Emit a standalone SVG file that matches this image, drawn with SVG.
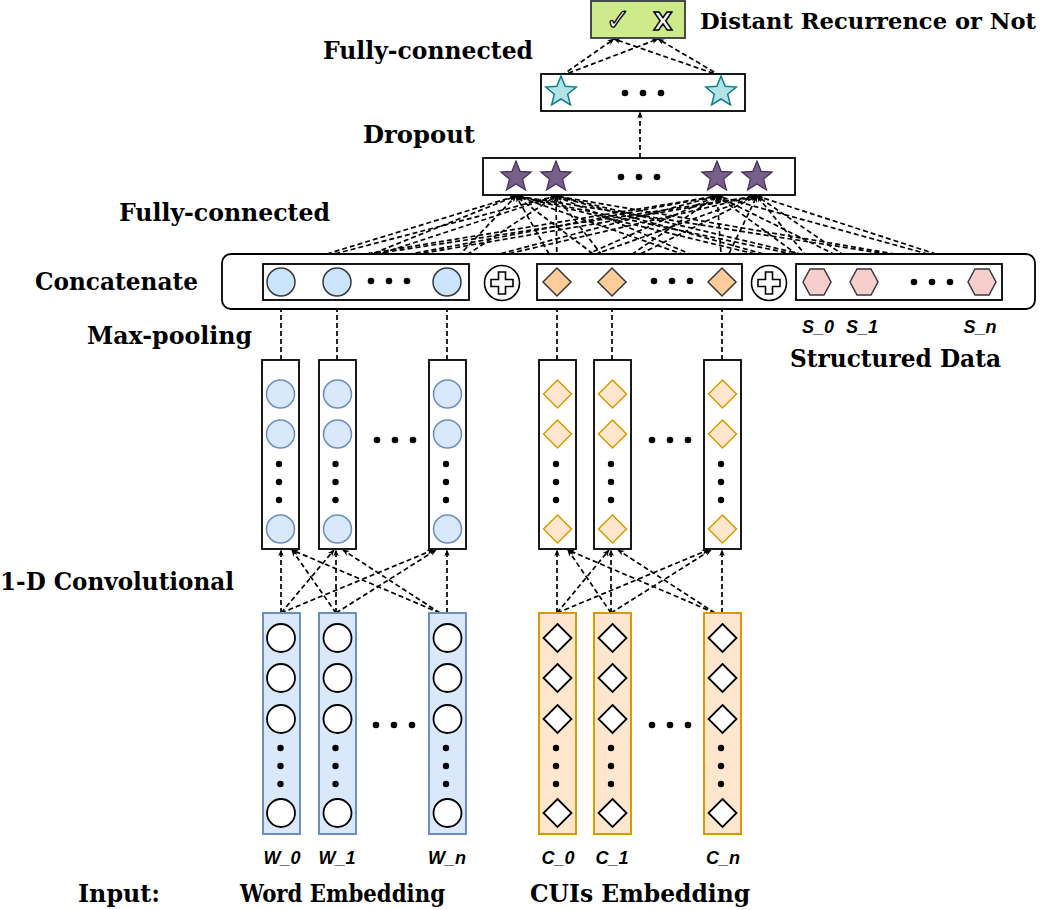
<svg xmlns="http://www.w3.org/2000/svg" xmlns:xlink="http://www.w3.org/1999/xlink" width="1050" height="910" viewBox="0 0 1050 910">
<style>
.lbl{font-family:"DejaVu Serif","Liberation Serif",serif;font-weight:bold;font-size:25px;fill:#000}
.sub{font-family:"Liberation Sans",Arial,sans-serif;font-weight:bold;font-style:italic;font-size:18px;fill:#000;text-anchor:middle}
.box{fill:#fff;stroke:#000;stroke-width:1.8}
.dl{fill:none;stroke:#000;stroke-width:1.7;stroke-dasharray:5 3;marker-end:url(#ah)}
.dot{fill:#000}
.cc{fill:#cce5ff;stroke:#36393d;stroke-width:1.5}
.cd{fill:#ffcc99;stroke:#36393d;stroke-width:1.5}
.hx{fill:#f8cecc;stroke:#36393d;stroke-width:1.5}
.bc{fill:#dae8fc;stroke:#6c8ebf;stroke-width:1.5}
.od{fill:#ffe6cc;stroke:#d79b00;stroke-width:1.5}
.wcol{fill:#dae8fc;stroke:#6c8ebf;stroke-width:2}
.ocol{fill:#ffe6cc;stroke:#d79b00;stroke-width:2}
.wc{fill:#fff;stroke:#000;stroke-width:1.8}
.ps{fill:#76608a;stroke:#432d57;stroke-width:1.2}
.cs{fill:#b0e3e6;stroke:#0e8088;stroke-width:1.5}
</style>
<defs>
<marker id="ah" viewBox="0 0 10 10" refX="9" refY="5" markerWidth="7" markerHeight="7" orient="auto" markerUnits="userSpaceOnUse"><path d="M0,1 L10,5 L0,9 L3,5 z" fill="#000"/></marker>
<path id="star" d="M0,-16 L4.11,-5.66 L15.22,-4.94 L6.66,2.16 L9.4,12.94 L0,7 L-9.4,12.94 L-6.66,2.16 L-15.22,-4.94 L-4.11,-5.66 Z"/>
<path id="dia" d="M0,-14 L14,0 L0,14 L-14,0 Z"/>
<path id="hex" d="M-14,0 L-7,-13 L7,-13 L14,0 L7,13 L-7,13 Z"/>
<g id="plus"><circle r="17.5" fill="#fff" stroke="#000" stroke-width="1.6"/><path d="M-3.5,-11 H3.5 V-3.5 H11 V3.5 H3.5 V11 H-3.5 V3.5 H-11 V-3.5 H-3.5 Z" fill="#fff" stroke="#000" stroke-width="1.6"/></g>
<g id="hdots"><circle cx="0" cy="0" r="3.3"/><circle cx="18" cy="0" r="3.3"/><circle cx="36" cy="0" r="3.3"/></g>
<g id="vdots"><circle cx="0" cy="0" r="3.2"/><circle cx="0" cy="18" r="3.2"/><circle cx="0" cy="36" r="3.2"/></g>
</defs>
<rect width="1050" height="910" fill="#fff"/>

<g id="connectors">
<line class="dl" x1="561" y1="76" x2="614" y2="39"/>
<line class="dl" x1="561" y1="76" x2="658" y2="39"/>
<line class="dl" x1="721" y1="76" x2="614" y2="39"/>
<line class="dl" x1="721" y1="76" x2="658" y2="39"/>
<line class="dl" x1="640" y1="158" x2="640" y2="112"/>
<line class="dl" x1="281" y1="268" x2="516" y2="196"/><line class="dl" x1="281" y1="268" x2="556" y2="196"/><line class="dl" x1="281" y1="268" x2="717" y2="196"/><line class="dl" x1="281" y1="268" x2="757" y2="196"/>
<line class="dl" x1="337" y1="268" x2="516" y2="196"/><line class="dl" x1="337" y1="268" x2="556" y2="196"/><line class="dl" x1="337" y1="268" x2="717" y2="196"/><line class="dl" x1="337" y1="268" x2="757" y2="196"/>
<line class="dl" x1="447" y1="268" x2="516" y2="196"/><line class="dl" x1="447" y1="268" x2="556" y2="196"/><line class="dl" x1="447" y1="268" x2="717" y2="196"/><line class="dl" x1="447" y1="268" x2="757" y2="196"/>
<line class="dl" x1="557" y1="268" x2="516" y2="196"/><line class="dl" x1="557" y1="268" x2="556" y2="196"/><line class="dl" x1="557" y1="268" x2="717" y2="196"/><line class="dl" x1="557" y1="268" x2="757" y2="196"/>
<line class="dl" x1="612" y1="268" x2="516" y2="196"/><line class="dl" x1="612" y1="268" x2="556" y2="196"/><line class="dl" x1="612" y1="268" x2="717" y2="196"/><line class="dl" x1="612" y1="268" x2="757" y2="196"/>
<line class="dl" x1="722" y1="268" x2="516" y2="196"/><line class="dl" x1="722" y1="268" x2="556" y2="196"/><line class="dl" x1="722" y1="268" x2="717" y2="196"/><line class="dl" x1="722" y1="268" x2="757" y2="196"/>
<line class="dl" x1="817" y1="269" x2="516" y2="196"/><line class="dl" x1="817" y1="269" x2="556" y2="196"/><line class="dl" x1="817" y1="269" x2="717" y2="196"/><line class="dl" x1="817" y1="269" x2="757" y2="196"/>
<line class="dl" x1="864" y1="269" x2="516" y2="196"/><line class="dl" x1="864" y1="269" x2="556" y2="196"/><line class="dl" x1="864" y1="269" x2="717" y2="196"/><line class="dl" x1="864" y1="269" x2="757" y2="196"/>
<line class="dl" x1="982" y1="269" x2="516" y2="196"/><line class="dl" x1="982" y1="269" x2="556" y2="196"/><line class="dl" x1="982" y1="269" x2="717" y2="196"/><line class="dl" x1="982" y1="269" x2="757" y2="196"/>
<line class="dl" x1="281" y1="360" x2="281" y2="300"/>
<line class="dl" x1="337" y1="360" x2="337" y2="300"/>
<line class="dl" x1="447" y1="360" x2="447" y2="300"/>
<line class="dl" x1="557" y1="360" x2="557" y2="300"/>
<line class="dl" x1="612" y1="360" x2="612" y2="300"/>
<line class="dl" x1="722" y1="360" x2="722" y2="300"/>
<line class="dl" x1="281" y1="613" x2="281" y2="550"/>
<line class="dl" x1="281" y1="613" x2="334" y2="550"/>
<line class="dl" x1="281" y1="613" x2="433" y2="550"/>
<line class="dl" x1="336" y1="613" x2="292" y2="550"/>
<line class="dl" x1="336" y1="613" x2="336" y2="550"/>
<line class="dl" x1="336" y1="613" x2="436" y2="550"/>
<line class="dl" x1="440" y1="613" x2="292" y2="550"/>
<line class="dl" x1="440" y1="613" x2="343" y2="550"/>
<line class="dl" x1="447" y1="613" x2="447" y2="550"/>
<line class="dl" x1="557" y1="613" x2="557" y2="550"/>
<line class="dl" x1="557" y1="613" x2="609" y2="550"/>
<line class="dl" x1="557" y1="613" x2="708" y2="550"/>
<line class="dl" x1="611" y1="613" x2="568" y2="550"/>
<line class="dl" x1="611" y1="613" x2="611" y2="550"/>
<line class="dl" x1="611" y1="613" x2="711" y2="550"/>
<line class="dl" x1="715" y1="613" x2="568" y2="550"/>
<line class="dl" x1="715" y1="613" x2="618" y2="550"/>
<line class="dl" x1="722" y1="613" x2="722" y2="550"/>
</g>

<g id="output">
<rect x="591" y="1" width="94" height="37" fill="#cdeb8b" stroke="#36393d" stroke-width="1.8"/>
<text x="618" y="30" font-family="DejaVu Sans,sans-serif" font-size="30" font-weight="bold" text-anchor="middle" fill="#fff" stroke="#000" stroke-width="1.3">✓</text>
<text x="663" y="30" font-family="DejaVu Sans,sans-serif" font-size="25" font-weight="bold" text-anchor="middle" fill="#fff" stroke="#000" stroke-width="1.5">X</text>
</g>

<g id="fc2">
<rect class="box" x="541" y="74" width="204" height="37"/>
<use xlink:href="#star" class="cs" transform="translate(561,92)"/>
<use xlink:href="#star" class="cs" transform="translate(721,92)"/>
<use xlink:href="#hdots" class="dot" transform="translate(625,93)"/>
</g>

<g id="dropout">
<rect class="box" x="483" y="158" width="312" height="37"/>
<use xlink:href="#star" class="ps" transform="translate(516,177)"/>
<use xlink:href="#star" class="ps" transform="translate(556,177)"/>
<use xlink:href="#star" class="ps" transform="translate(717,177)"/>
<use xlink:href="#star" class="ps" transform="translate(757,177)"/>
<use xlink:href="#hdots" class="dot" transform="translate(621,177)"/>
</g>

<g id="concatenate">
<rect x="222" y="254" width="813" height="55" rx="9" fill="#fff" stroke="#000" stroke-width="1.8"/>
<rect class="box" x="263" y="264" width="206" height="36"/>
<circle class="cc" cx="281" cy="282" r="14"/>
<circle class="cc" cx="337" cy="282" r="14"/>
<circle class="cc" cx="447" cy="282" r="14"/>
<use xlink:href="#hdots" class="dot" transform="translate(371,281)"/>
<use xlink:href="#plus" transform="translate(502,283)"/>
<rect class="box" x="537" y="264" width="205" height="36"/>
<use xlink:href="#dia" class="cd" transform="translate(557,282)"/>
<use xlink:href="#dia" class="cd" transform="translate(612,282)"/>
<use xlink:href="#dia" class="cd" transform="translate(722,282)"/>
<use xlink:href="#hdots" class="dot" transform="translate(654,281)"/>
<use xlink:href="#plus" transform="translate(769,283)"/>
<rect class="box" x="796" y="264" width="206" height="36"/>
<use xlink:href="#hex" class="hx" transform="translate(817,282)"/>
<use xlink:href="#hex" class="hx" transform="translate(864,282)"/>
<use xlink:href="#hex" class="hx" transform="translate(982,282)"/>
<use xlink:href="#hdots" class="dot" transform="translate(914,282)"/>
</g>

<g id="conv-word">
<rect class="box" x="262" y="360" width="37" height="189"/>
<rect class="box" x="319" y="360" width="37" height="189"/>
<rect class="box" x="429" y="360" width="37" height="189"/>
<circle class="bc" cx="280.5" cy="394" r="14"/><circle class="bc" cx="280.5" cy="434" r="14"/><circle class="bc" cx="280.5" cy="529" r="14"/>
<circle class="bc" cx="337.5" cy="394" r="14"/><circle class="bc" cx="337.5" cy="434" r="14"/><circle class="bc" cx="337.5" cy="529" r="14"/>
<circle class="bc" cx="447.5" cy="394" r="14"/><circle class="bc" cx="447.5" cy="434" r="14"/><circle class="bc" cx="447.5" cy="529" r="14"/>
<use xlink:href="#vdots" class="dot" transform="translate(279,464)"/>
<use xlink:href="#vdots" class="dot" transform="translate(335.5,464)"/>
<use xlink:href="#vdots" class="dot" transform="translate(446,464)"/>
<use xlink:href="#hdots" class="dot" transform="translate(377,440)"/>
</g>

<g id="conv-cui">
<rect class="box" x="539" y="360" width="37" height="189"/>
<rect class="box" x="594" y="360" width="37" height="189"/>
<rect class="box" x="704" y="360" width="37" height="189"/>
<use xlink:href="#dia" class="od" transform="translate(557.5,394)"/><use xlink:href="#dia" class="od" transform="translate(557.5,434)"/><use xlink:href="#dia" class="od" transform="translate(557.5,529)"/>
<use xlink:href="#dia" class="od" transform="translate(612.5,394)"/><use xlink:href="#dia" class="od" transform="translate(612.5,434)"/><use xlink:href="#dia" class="od" transform="translate(612.5,529)"/>
<use xlink:href="#dia" class="od" transform="translate(722.5,394)"/><use xlink:href="#dia" class="od" transform="translate(722.5,434)"/><use xlink:href="#dia" class="od" transform="translate(722.5,529)"/>
<use xlink:href="#vdots" class="dot" transform="translate(556,464)"/>
<use xlink:href="#vdots" class="dot" transform="translate(611,464)"/>
<use xlink:href="#vdots" class="dot" transform="translate(721,464)"/>
<use xlink:href="#hdots" class="dot" transform="translate(652,440)"/>
</g>

<g id="input-word">
<rect class="wcol" x="263" y="613" width="37" height="221"/>
<rect class="wcol" x="319" y="613" width="37" height="221"/>
<rect class="wcol" x="429" y="613" width="37" height="221"/>
<circle class="wc" cx="281" cy="638" r="14"/><circle class="wc" cx="281" cy="678" r="14"/><circle class="wc" cx="281" cy="719" r="14"/><circle class="wc" cx="281" cy="813" r="14"/>
<circle class="wc" cx="337.5" cy="638" r="14"/><circle class="wc" cx="337.5" cy="678" r="14"/><circle class="wc" cx="337.5" cy="719" r="14"/><circle class="wc" cx="337.5" cy="813" r="14"/>
<circle class="wc" cx="447.5" cy="638" r="14"/><circle class="wc" cx="447.5" cy="678" r="14"/><circle class="wc" cx="447.5" cy="719" r="14"/><circle class="wc" cx="447.5" cy="813" r="14"/>
<use xlink:href="#vdots" class="dot" transform="translate(280.5,748)"/>
<use xlink:href="#vdots" class="dot" transform="translate(335.5,748)"/>
<use xlink:href="#vdots" class="dot" transform="translate(446,748)"/>
<use xlink:href="#hdots" class="dot" transform="translate(376,725)"/>
</g>

<g id="input-cui">
<rect class="ocol" x="539" y="613" width="37" height="221"/>
<rect class="ocol" x="594" y="613" width="37" height="221"/>
<rect class="ocol" x="704" y="613" width="37" height="221"/>
<use xlink:href="#dia" class="wc" transform="translate(557.5,638)"/><use xlink:href="#dia" class="wc" transform="translate(557.5,678)"/><use xlink:href="#dia" class="wc" transform="translate(557.5,719)"/><use xlink:href="#dia" class="wc" transform="translate(557.5,813)"/>
<use xlink:href="#dia" class="wc" transform="translate(612.5,638)"/><use xlink:href="#dia" class="wc" transform="translate(612.5,678)"/><use xlink:href="#dia" class="wc" transform="translate(612.5,719)"/><use xlink:href="#dia" class="wc" transform="translate(612.5,813)"/>
<use xlink:href="#dia" class="wc" transform="translate(722.5,638)"/><use xlink:href="#dia" class="wc" transform="translate(722.5,678)"/><use xlink:href="#dia" class="wc" transform="translate(722.5,719)"/><use xlink:href="#dia" class="wc" transform="translate(722.5,813)"/>
<use xlink:href="#vdots" class="dot" transform="translate(556,748)"/>
<use xlink:href="#vdots" class="dot" transform="translate(611,748)"/>
<use xlink:href="#vdots" class="dot" transform="translate(721,748)"/>
<use xlink:href="#hdots" class="dot" transform="translate(652,725)"/>
</g>

<g id="labels">
<text class="lbl" x="700" y="29" font-size="22" style="font-size:22px" textLength="336" lengthAdjust="spacingAndGlyphs">Distant Recurrence or Not</text>
<text class="lbl" x="323" y="59" textLength="210" lengthAdjust="spacingAndGlyphs">Fully-connected</text>
<text class="lbl" x="363" y="143" textLength="112" lengthAdjust="spacingAndGlyphs">Dropout</text>
<text class="lbl" x="119" y="221" textLength="211" lengthAdjust="spacingAndGlyphs">Fully-connected</text>
<text class="lbl" x="35" y="290" textLength="163" lengthAdjust="spacingAndGlyphs">Concatenate</text>
<text class="lbl" x="87" y="344" textLength="165" lengthAdjust="spacingAndGlyphs">Max-pooling</text>
<text class="lbl" x="0" y="590" textLength="234" lengthAdjust="spacingAndGlyphs">1-D Convolutional</text>
<text class="lbl" x="790" y="367" textLength="211" lengthAdjust="spacingAndGlyphs">Structured Data</text>
<text class="lbl" x="78" y="902" textLength="82" lengthAdjust="spacingAndGlyphs">Input:</text>
<text class="lbl" x="240" y="902" textLength="205" lengthAdjust="spacingAndGlyphs">Word Embedding</text>
<text class="lbl" x="530" y="902" textLength="220" lengthAdjust="spacingAndGlyphs">CUIs Embedding</text>
<text class="sub" x="818" y="333">S_0</text>
<text class="sub" x="862" y="333">S_1</text>
<text class="sub" x="980" y="333">S_n</text>
<text class="sub" x="282" y="864">W_0</text>
<text class="sub" x="337" y="864">W_1</text>
<text class="sub" x="447" y="864">W_n</text>
<text class="sub" x="558" y="864">C_0</text>
<text class="sub" x="612" y="864">C_1</text>
<text class="sub" x="723" y="864">C_n</text>
</g>
</svg>
